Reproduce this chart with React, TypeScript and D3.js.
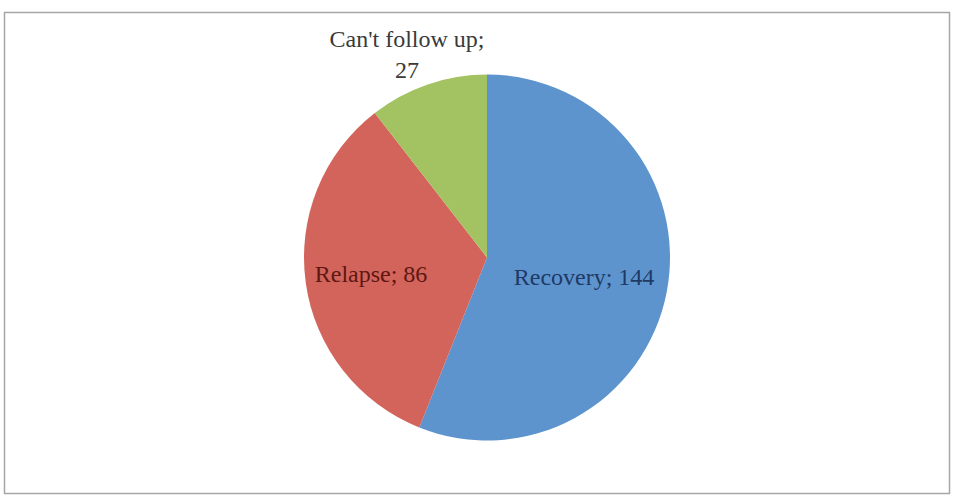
import React, { useEffect, useRef } from 'react';
import * as d3 from 'd3';

const categories = ['Recovery', 'Relapse', "Can't follow up"];
const values = [144, 86, 27];
const colors = ['#5E94CD', '#D2645B', '#A3C261'];
const textColors = ['#1F3A66', '#5E1712', '#3A3A3A'];

const W = 953;
const H = 496;

function PieChart() {
  const svgRef = useRef<SVGSVGElement>(null);

  useEffect(() => {
    const svg = d3.select(svgRef.current);
    svg.selectAll('*').remove();

    // chart area frame
    svg.append('rect')
      .attr('x', 4.5)
      .attr('y', 12.5)
      .attr('width', 945)
      .attr('height', 481)
      .attr('fill', '#fff')
      .attr('stroke', '#a6a6a6')
      .attr('stroke-width', 1.5);

    const cx = 487;
    const cy = 257.5;
    const radius = 183;

    const data = categories.map((c, i) => ({ label: c, value: values[i], i }));
    const pie = d3.pie<any>().value(d => d.value).sort(null);
    const arc = d3.arc<any>().innerRadius(0).outerRadius(radius);

    const g = svg.append('g').attr('transform', `translate(${cx},${cy})`);
    const arcs = pie(data);

    g.selectAll('path')
      .data(arcs)
      .enter()
      .append('path')
      .attr('d', arc)
      .attr('fill', d => colors[d.data.i]);

    // label radii as fraction of the radius (Excel best fit)
    const labelFactor = [0.54, 0.64, 1.2];
    arcs.forEach(d => {
      const f = labelFactor[d.data.i];
      const a = d3.arc<any>().innerRadius(radius * f).outerRadius(radius * f);
      let [x, y] = a.centroid(d);
      const t = g.append('text')
        .attr('text-anchor', 'middle')
        .attr('fill', textColors[d.data.i])
        .style('font-family', '"Liberation Serif", "Times New Roman", serif')
        .style('font-size', '24px');
      if (d.data.i === 2) {
        // outside label on two lines
        x = -80;
        y = -211;
        t.append('tspan').attr('x', x).attr('y', y).text(`${d.data.label};`);
        t.append('tspan').attr('x', x).attr('dy', 31).text(d.data.value);
      } else {
        t.attr('x', x).attr('y', y).attr('dy', '0.35em').text(`${d.data.label}; ${d.data.value}`);
      }
    });
  }, []);

  return <svg ref={svgRef} width={W} height={H} style={{ display: 'block' }} />;
}

export default function App() {
  return (
    <div style={{ position: 'fixed', left: 0, top: 0, width: W, height: H, background: '#fff' }}>
      <PieChart />
    </div>
  );
}
